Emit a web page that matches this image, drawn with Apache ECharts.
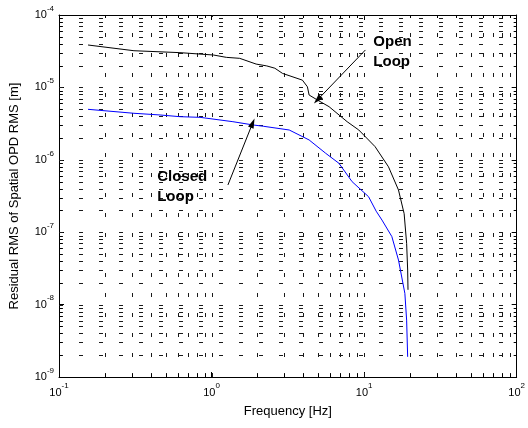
<!DOCTYPE html>
<html>
<head>
<meta charset="utf-8">
<script src="https://cdn.jsdelivr.net/npm/echarts@6/dist/echarts.min.js"></script>
<style>
  html, body { margin: 0; padding: 0; background: #ffffff; }
  #chart { width: 528px; height: 428px; }
</style>
</head>
<body>
<div id="chart"></div>
<script>
// Residual RMS of spatial OPD vs. frequency, open and closed loop
const openLoopFreq = [0.155, 0.31, 0.62, 1.03, 1.25, 1.53, 1.96, 2.3, 2.6, 2.92, 3.94, 4.25, 4.36, 4.94, 5.89, 7.74, 9.23, 11.8, 14.45, 16.8, 18.3, 19.0, 19.3, 19.4];
const openLoopRms  = [3.85e-5, 3.21e-5, 3.02e-5, 2.8e-5, 2.6e-5, 2.52e-5, 2.1e-5, 1.98e-5, 1.84e-5, 1.56e-5, 1.26e-5, 1.02e-5, 7.85e-6, 6.7e-6, 5.42e-6, 3.36e-6, 2.58e-6, 1.52e-6, 8.0e-7, 3.83e-7, 1.8e-7, 7.0e-8, 3.0e-8, 1.6e-8];

const closedLoopFreq = [0.155, 0.31, 0.46, 0.62, 0.84, 1.38, 1.87, 2.2, 3.23, 4.36, 5.6, 6.84, 8.34, 10.7, 12.0, 13.1, 15.2, 16.8, 18.5, 19.0, 19.3];
const closedLoopRms  = [4.98e-6, 4.39e-6, 4.16e-6, 3.94e-6, 3.86e-6, 3.36e-6, 3.03e-6, 2.9e-6, 2.58e-6, 1.88e-6, 1.23e-6, 8.95e-7, 4.99e-7, 3.09e-7, 1.95e-7, 1.47e-7, 8.7e-8, 4.13e-8, 1.43e-8, 6.1e-9, 1.9e-9];

// axis extents
const xRange = [0.1, 100];
const yRange = [1e-9, 1e-4];

// annotation arrows: [tail, head] in data units
const openArrow   = [[10.2, 3.29e-5], [4.94, 6.7e-6]];
const closedArrow = [[1.28, 4.49e-7], [1.86, 3.22e-6]];
// annotation text anchors (left edge, vertical middle of the block)
const openLabelAt   = [11.5, 3.08e-5];
const closedLabelAt = [0.44, 4.21e-7];

const FONT = '"Liberation Sans", Arial, Helvetica, sans-serif';

// every k*10^n inside the range (k = 1..9), flagged when it is a decade
function logSteps(lo, hi) {
  const out = [];
  const e0 = Math.round(Math.log10(lo)), e1 = Math.round(Math.log10(hi));
  for (let e = e0; e < e1; e++) {
    for (let k = 1; k <= 9; k++) {
      const v = k * Math.pow(10, e);
      if (v > lo * 1.0001 && v < hi / 1.0001) out.push([v, k === 1 ? 1 : 0]);
    }
  }
  return out;
}

// items for the grid/minor-tick layer: [x, y, orientation, isDecade]
const gridItems = [];
logSteps(xRange[0], xRange[1]).forEach(([v, d]) => gridItems.push([v, yRange[0], 0, d]));
logSteps(yRange[0], yRange[1]).forEach(([v, d]) => gridItems.push([xRange[0], v, 1, d]));

function pow10Label(v) {
  return '{b|10}{e|' + Math.round(Math.log10(v)) + '}';
}
const richPow = {
  b: { fontSize: 11, fontFamily: FONT, color: '#000', padding: [5, 0, 5, 0] },
  e: { fontSize: 8, fontFamily: FONT, color: '#000', verticalAlign: 'top', lineHeight: 9 }
};

const axisLineStyle = { show: true, lineStyle: { color: '#000', width: 1 } };
const majorTick = { show: true, inside: true, length: 5, lineStyle: { color: '#000', width: 1 } };

function renderGrid(params, api) {
  const cs = params.coordSys;
  const orient = api.value(2);
  const decade = api.value(3);
  const dash = { stroke: '#1a1a1a', lineWidth: 1, lineDash: [4, 16] };
  const tickStyle = { stroke: '#000', lineWidth: 1 };
  const kids = [];
  const top = cs.y, bottom = cs.y + cs.height, left = cs.x, right = cs.x + cs.width;
  if (orient === 0) {
    const px = Math.round(api.coord([api.value(0), yRange[0]])[0]) + 0.5;
    kids.push({ type: 'line', shape: { x1: px, y1: bottom, x2: px, y2: top }, style: dash });
    if (!decade) {
      kids.push({ type: 'line', shape: { x1: px, y1: bottom, x2: px, y2: bottom - 3 }, style: tickStyle });
      kids.push({ type: 'line', shape: { x1: px, y1: top, x2: px, y2: top + 3 }, style: tickStyle });
    }
  } else {
    const py = Math.round(api.coord([xRange[0], api.value(1)])[1]) + 0.5;
    kids.push({ type: 'line', shape: { x1: left, y1: py, x2: right, y2: py }, style: dash });
    if (!decade) {
      kids.push({ type: 'line', shape: { x1: left, y1: py, x2: left + 3, y2: py }, style: tickStyle });
      kids.push({ type: 'line', shape: { x1: right, y1: py, x2: right - 3, y2: py }, style: tickStyle });
    }
  }
  return { type: 'group', children: kids };
}

function arrowLine(pair) {
  return [
    { coord: pair[0], symbol: 'none' },
    { coord: pair[1], symbol: 'triangle', symbolSize: [6, 10] }
  ];
}

const chart = echarts.init(document.getElementById('chart'), null, { renderer: 'canvas' });

chart.setOption({
  animation: false,
  backgroundColor: '#ffffff',
  textStyle: { fontFamily: FONT },
  grid: { left: 58, right: 9, top: 15, bottom: 51, containLabel: false },
  xAxis: [
    {
      type: 'log', logBase: 10, min: xRange[0], max: xRange[1], position: 'bottom',
      name: 'Frequency [Hz]', nameLocation: 'middle', nameGap: 28,
      nameTextStyle: { fontSize: 13, color: '#000', fontFamily: FONT },
      axisLine: axisLineStyle, axisTick: majorTick,
      axisLabel: { formatter: pow10Label, rich: richPow, margin: 5 },
      splitLine: { show: false }, minorTick: { show: false }
    },
    {
      type: 'log', logBase: 10, min: xRange[0], max: xRange[1], position: 'top',
      axisLine: axisLineStyle, axisTick: majorTick,
      axisLabel: { show: false }, splitLine: { show: false }
    }
  ],
  yAxis: [
    {
      type: 'log', logBase: 10, min: yRange[0], max: yRange[1], position: 'left',
      name: 'Residual RMS of Spatial OPD RMS [m]', nameLocation: 'middle', nameGap: 38,
      nameTextStyle: { fontSize: 13, color: '#000', fontFamily: FONT },
      axisLine: axisLineStyle, axisTick: majorTick,
      axisLabel: { formatter: pow10Label, rich: richPow, margin: 5 },
      splitLine: { show: false }, minorTick: { show: false }
    },
    {
      type: 'log', logBase: 10, min: yRange[0], max: yRange[1], position: 'right',
      axisLine: axisLineStyle, axisTick: majorTick,
      axisLabel: { show: false }, splitLine: { show: false }
    }
  ],
  series: [
    {
      type: 'custom', name: 'grid', silent: true, clip: false, z: 1,
      renderItem: renderGrid,
      data: gridItems
    },
    {
      type: 'line', name: 'Open Loop', z: 3,
      data: openLoopFreq.map((f, i) => [f, openLoopRms[i]]),
      showSymbol: false, symbol: 'none',
      lineStyle: { color: '#000000', width: 1 },
      markLine: {
        silent: true, symbol: ['none', 'triangle'],
        label: { show: false },
        lineStyle: { color: '#000', width: 1, type: 'solid' },
        itemStyle: { color: '#000' },
        data: [arrowLine(openArrow)]
      },
      markPoint: {
        silent: true, symbol: 'circle', symbolSize: 0,
        label: {
          show: true, position: 'right', distance: 0,
          formatter: 'Open\nLoop', fontSize: 15, fontWeight: 'bold', lineHeight: 20,
          color: '#000', fontFamily: FONT, align: 'left'
        },
        data: [{ coord: openLabelAt }]
      }
    },
    {
      type: 'line', name: 'Closed Loop', z: 3,
      data: closedLoopFreq.map((f, i) => [f, closedLoopRms[i]]),
      showSymbol: false, symbol: 'none',
      lineStyle: { color: '#0000ff', width: 1 },
      markLine: {
        silent: true, symbol: ['none', 'triangle'],
        label: { show: false },
        lineStyle: { color: '#000', width: 1, type: 'solid' },
        itemStyle: { color: '#000' },
        data: [arrowLine(closedArrow)]
      },
      markPoint: {
        silent: true, symbol: 'circle', symbolSize: 0,
        label: {
          show: true, position: 'right', distance: 0,
          formatter: 'Closed\nLoop', fontSize: 15, fontWeight: 'bold', lineHeight: 20,
          color: '#000', fontFamily: FONT, align: 'left'
        },
        data: [{ coord: closedLabelAt }]
      }
    }
  ]
});
</script>
</body>
</html>
